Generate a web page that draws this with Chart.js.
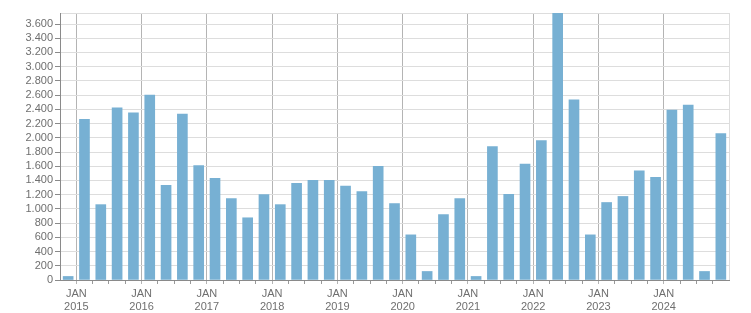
<!DOCTYPE html>
<html><head><meta charset="utf-8">
<script src="https://cdn.jsdelivr.net/npm/chart.js@4/dist/chart.umd.min.js"></script>
<style>html,body{margin:0;padding:0;background:#fff}#wrap{width:751px;height:313px;position:relative}</style>
</head><body><div id="wrap"><canvas id="c"></canvas></div>
<script>
// Quarterly periods (Q4 2014 .. Q4 2024)
const quarters = [
  '2014-Q4',
  '2015-Q1','2015-Q2','2015-Q3','2015-Q4',
  '2016-Q1','2016-Q2','2016-Q3','2016-Q4',
  '2017-Q1','2017-Q2','2017-Q3','2017-Q4',
  '2018-Q1','2018-Q2','2018-Q3','2018-Q4',
  '2019-Q1','2019-Q2','2019-Q3','2019-Q4',
  '2020-Q1','2020-Q2','2020-Q3','2020-Q4',
  '2021-Q1','2021-Q2','2021-Q3','2021-Q4',
  '2022-Q1','2022-Q2','2022-Q3','2022-Q4',
  '2023-Q1','2023-Q2','2023-Q3','2023-Q4',
  '2024-Q1','2024-Q2','2024-Q3','2024-Q4'
];
const values = [
  50,
  2260, 1060, 2420, 2350,
  2600, 1330, 2335, 1610,
  1430, 1145, 875, 1200,
  1060, 1360, 1400, 1400,
  1320, 1245, 1600, 1075,
  635, 120, 920, 1145,
  50, 1875, 1205, 1630,
  1960, 3755, 2535, 635,
  1090, 1175, 1535, 1445,
  2390, 2460, 120, 2060
];
const yTickValues = [0,200,400,600,800,1000,1200,1400,1600,1800,2000,2200,2400,2600,2800,3000,3200,3400,3600];
const monthLabel = 'JAN';

const yMax = Math.max(...values);
const fmt = v => String(v).replace(/\B(?=(\d{3})+(?!\d))/g, '.');
const isJan = i => i >= 0 && i < quarters.length && quarters[i].endsWith('Q1');
const tv = c => (c && c.tick) ? c.tick.value : -1;
const FONT = {family: "'Liberation Sans', Arial, sans-serif", size: 11, lineHeight: 1.2};
const TXT = '#6f6f6f';

new Chart(document.getElementById('c'), {
  type: 'bar',
  data: {
    datasets: [{
      data: values.map((v, i) => ({x: i + 0.5, y: v})),
      backgroundColor: '#77b0d3',
      borderWidth: 0,
      barThickness: 10
    }]
  },
  options: {
    responsive: true,
    maintainAspectRatio: false,
    animation: false,
    layout: {padding: {top: 13, right: 22, left: 0, bottom: 0}},
    plugins: {legend: {display: false}, tooltip: {enabled: false}},
    scales: {
      x: {
        type: 'linear',
        min: 0,
        max: quarters.length,
        offset: false,
        afterBuildTicks: s => { s.ticks = Array.from({length: quarters.length + 1}, (_, i) => ({value: i})); },
        afterFit: s => { s.height = 33; },
        border: {color: '#8a8a8a', width: 1},
        grid: {
          offset: false,
          color: c => { const v = tv(c); return isJan(v) ? '#b4b4b4' : (v === quarters.length ? '#dddddd' : 'rgba(0,0,0,0)'); },
          tickColor: c => { const v = tv(c); return (v <= 0 || v === quarters.length) ? 'rgba(0,0,0,0)' : (isJan(v) ? '#b4b4b4' : '#999999'); },
          lineWidth: 1,
          tickLength: 4,
          drawTicks: true
        },
        ticks: {
          autoSkip: false,
          maxRotation: 0,
          minRotation: 0,
          padding: 3,
          color: TXT,
          font: FONT,
          callback: v => isJan(v) ? [monthLabel, quarters[v].slice(0, 4)] : ''
        }
      },
      y: {
        type: 'linear',
        min: 0,
        max: yMax,
        afterBuildTicks: s => { s.ticks = yTickValues.map(v => ({value: v})).concat([{value: yMax}]); },
        afterFit: s => { s.width = 60; },
        border: {color: '#8a8a8a', width: 1},
        grid: {
          color: '#dddddd',
          lineWidth: 1,
          tickColor: c => yTickValues.includes(tv(c)) ? '#8a8a8a' : 'rgba(0,0,0,0)',
          tickLength: 5
        },
        ticks: {
          autoSkip: false,
          color: TXT,
          font: FONT,
          padding: 2,
          callback: v => yTickValues.includes(v) ? fmt(v) : ''
        }
      }
    }
  }
});
</script>
</body></html>
